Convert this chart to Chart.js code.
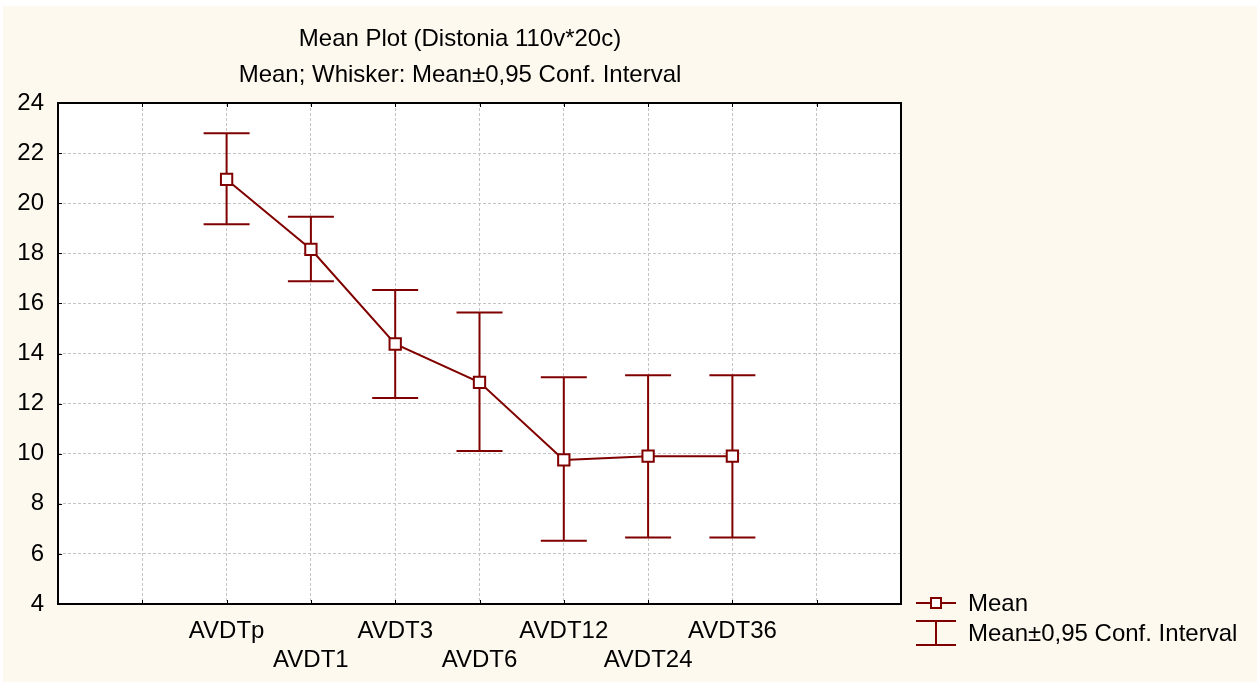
<!DOCTYPE html>
<html>
<head>
<meta charset="utf-8">
<script src="https://cdn.jsdelivr.net/npm/chart.js@4"></script>
<style>
  html, body { margin: 0; padding: 0; background: #ffffff; }
  canvas { display: block; }
</style>
</head>
<body>
<canvas id="meanPlot" width="1259" height="683"></canvas>
<script>
// ─── Data ────────────────────────────────────────────────────────────────────
const categories = ['AVDTp', 'AVDT1', 'AVDT3', 'AVDT6', 'AVDT12', 'AVDT24', 'AVDT36'];
const means      = [20.95, 18.16, 14.38, 12.85, 9.75, 9.90, 9.90];
const ciUpper    = [22.79, 19.46, 16.53, 15.64, 13.05, 13.13, 13.13];
const ciLower    = [19.16, 16.88, 12.22, 10.11, 6.52, 6.65, 6.65];
const labelRow   = [0, 1, 0, 1, 0, 1, 0];   // staggered tick labels
const titleLines = ['Mean Plot (Distonia 110v*20c)', 'Mean; Whisker: Mean\u00b10,95 Conf. Interval'];
const legendText = ['Mean', 'Mean\u00b10,95 Conf. Interval'];

// ─── Styling ─────────────────────────────────────────────────────────────────
const RED   = '#800000';
const CREAM = '#fef9ef';
const GRID  = '#c4c4c4';
const FONT  = '"Liberation Sans", Arial, sans-serif';
const FSIZE = 24;

const X_MIN = 0, X_MAX = 10, FIRST_SLOT = 2;

const points = means.map((m, i) => ({ x: i + FIRST_SLOT, y: m }));

// ─── Plugins ─────────────────────────────────────────────────────────────────
const backdrop = {
  id: 'backdrop',
  beforeDraw(chart) {
    const { ctx, chartArea: a } = chart;
    ctx.save();
    ctx.fillStyle = '#ffffff';
    ctx.fillRect(0, 0, chart.width, chart.height);
    ctx.fillStyle = CREAM;
    ctx.fillRect(3, 6, 1254, 676);
    ctx.fillStyle = '#ffffff';
    ctx.fillRect(a.left, a.top, a.right - a.left, a.bottom - a.top);
    ctx.restore();
  },
};

const whiskers = {
  id: 'whiskers',
  beforeDatasetsDraw(chart) {
    const { ctx, scales: { x, y } } = chart;
    ctx.save();
    ctx.strokeStyle = RED;
    ctx.lineWidth = 2;
    means.forEach((_, i) => {
      const px = x.getPixelForValue(i + FIRST_SLOT);
      const top = y.getPixelForValue(ciUpper[i]);
      const bot = y.getPixelForValue(ciLower[i]);
      ctx.beginPath();
      ctx.moveTo(px, top); ctx.lineTo(px, bot);
      ctx.moveTo(px - 23, top); ctx.lineTo(px + 23, top);
      ctx.moveTo(px - 23, bot); ctx.lineTo(px + 23, bot);
      ctx.stroke();
    });
    ctx.restore();
  },
};

const frame = {
  id: 'frame',
  afterDraw(chart) {
    const { ctx, chartArea: a, scales: { x, y } } = chart;
    ctx.save();
    ctx.strokeStyle = '#000000';
    ctx.lineWidth = 1;
    ctx.beginPath();
    x.ticks.forEach(t => {
      if (t.value <= X_MIN || t.value >= X_MAX) return;
      const px = Math.round(x.getPixelForValue(t.value)) + 0.5;
      ctx.moveTo(px, a.top); ctx.lineTo(px, a.top + 4);
      ctx.moveTo(px, a.bottom); ctx.lineTo(px, a.bottom - 4);
    });
    y.ticks.forEach(t => {
      const py = Math.round(y.getPixelForValue(t.value)) + 0.5;
      ctx.moveTo(a.left, py); ctx.lineTo(a.left + 4, py);
    });
    ctx.stroke();
    ctx.lineWidth = 2;
    ctx.strokeRect(a.left, a.top, a.right - a.left, a.bottom - a.top);

    // title
    ctx.fillStyle = '#000000';
    ctx.font = `${FSIZE}px ${FONT}`;
    ctx.textAlign = 'center';
    ctx.textBaseline = 'middle';
    ctx.fillText(titleLines[0], 460, 39);
    ctx.fillText(titleLines[1], 460, 75);

    // legend
    ctx.strokeStyle = RED;
    ctx.lineWidth = 2;
    ctx.beginPath();
    ctx.moveTo(916, 603); ctx.lineTo(956, 603);
    ctx.moveTo(936, 621); ctx.lineTo(936, 645);
    ctx.moveTo(916, 621); ctx.lineTo(956, 621);
    ctx.moveTo(916, 645); ctx.lineTo(956, 645);
    ctx.stroke();
    ctx.fillStyle = '#ffffff';
    ctx.fillRect(931, 598, 10, 10);
    ctx.strokeRect(931, 598, 10, 10);
    ctx.fillStyle = '#000000';
    ctx.textAlign = 'left';
    ctx.fillText(legendText[0], 968, 604);
    ctx.fillText(legendText[1], 968, 634);
    ctx.restore();
  },
};

// ─── Chart ───────────────────────────────────────────────────────────────────
Chart.defaults.font.family = FONT;
Chart.defaults.font.size = FSIZE;
Chart.defaults.color = '#000000';

new Chart(document.getElementById('meanPlot'), {
  type: 'line',
  data: {
    datasets: [{
      label: legendText[0],
      data: points,
      borderColor: RED,
      borderWidth: 2,
      tension: 0,
      pointStyle: 'rect',
      pointRadius: 8,
      pointBorderWidth: 2,
      pointBorderColor: RED,
      pointBackgroundColor: '#ffffff',
    }],
  },
  options: {
    responsive: false,
    animation: false,
    events: [],
    layout: { padding: { left: 0, top: 103, right: 358, bottom: 0 } },
    plugins: { legend: { display: false }, title: { display: false }, tooltip: { enabled: false } },
    scales: {
      x: {
        type: 'linear',
        min: X_MIN,
        max: X_MAX,
        afterFit: s => { s.height = 79; },
        border: { display: false, dash: [3, 2] },
        grid: { color: GRID, lineWidth: 1, drawTicks: false },
        ticks: {
          stepSize: 1,
          autoSkip: false,
          maxRotation: 0,
          padding: 13,
          font: { size: FSIZE, lineHeight: 1.21 },
          callback: v => {
            const i = v - FIRST_SLOT;
            if (i < 0 || i >= categories.length) return '';
            return labelRow[i] ? ['', categories[i]] : [categories[i]];
          },
        },
      },
      y: {
        min: 4,
        max: 24,
        afterFit: s => { s.width = 58; },
        border: { display: false, dash: [3, 2] },
        grid: { color: GRID, lineWidth: 1, drawTicks: false },
        ticks: { stepSize: 2, padding: 14, font: { size: FSIZE } },
      },
    },
  },
  plugins: [backdrop, whiskers, frame],
});
</script>
</body>
</html>
